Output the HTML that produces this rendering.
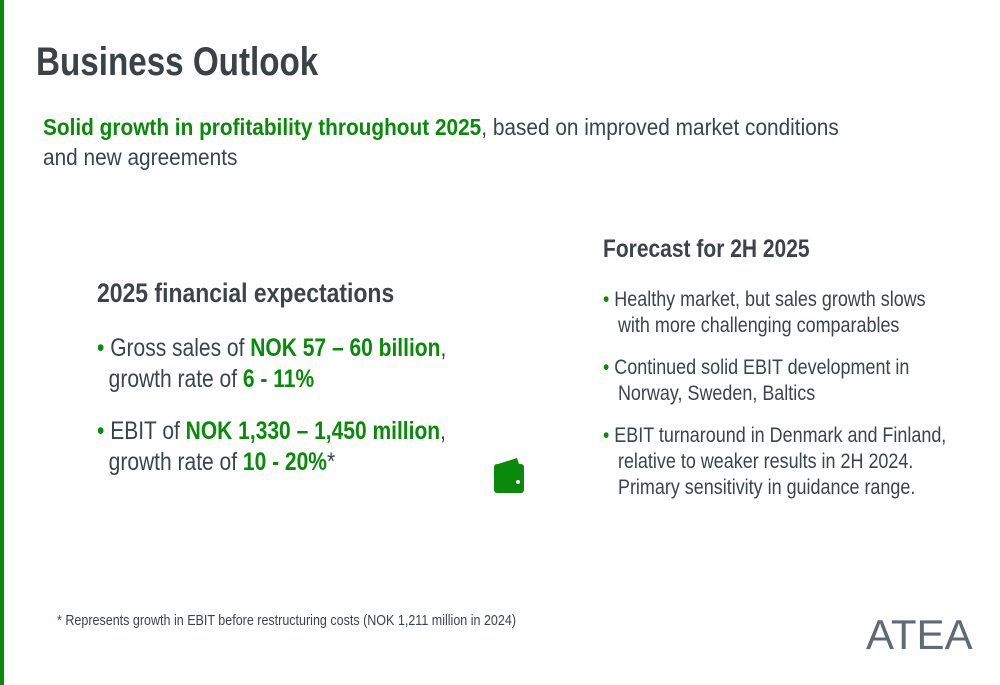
<!DOCTYPE html>
<html><head><meta charset="utf-8"><style>
body{margin:0;width:1000px;height:685px;background:#fff;position:relative;overflow:hidden;font-family:"Liberation Sans",Arial,sans-serif;color:#3d4448}
.a{position:absolute;white-space:nowrap;transform-origin:0 0;transform:scaleX(0.86)}
.g{color:#0a8a0a;font-weight:bold}
.b{color:#0a8a0a}
</style></head><body>
<div style="position:absolute;left:0;top:0;width:4px;height:685px;background:#0a8a0a"></div>
<div class="a" style="left:36px;top:40px;font-size:40px;font-weight:bold;color:#3b4246;transform:scaleX(0.83)">Business Outlook</div>
<div class="a" style="left:43px;top:112px;font-size:23px;line-height:30px;transform:scaleX(0.905)"><span class="g">Solid growth in profitability throughout 2025</span>, based on improved market conditions<br>and new agreements</div>
<div class="a" style="left:97px;top:278px;font-size:27px;font-weight:bold;transform:scaleX(0.85)">2025 financial expectations</div>
<div class="a" style="left:97px;top:333px;font-size:25px;line-height:31px;transform:scaleX(0.84)"><span class="b">•</span> Gross sales of <span class="g">NOK 57 – 60 billion</span>,<br>&nbsp;&nbsp;growth rate of <span class="g">6 - 11%</span></div>
<div class="a" style="left:97px;top:416px;font-size:25px;line-height:31px;transform:scaleX(0.84)"><span class="b">•</span> EBIT of <span class="g">NOK 1,330 – 1,450 million</span>,<br>&nbsp;&nbsp;growth rate of <span class="g">10 - 20%</span>*</div>
<svg style="position:absolute;left:493px;top:455px" width="32" height="40" viewBox="0 0 32 40"><path d="M2 10 L24 3 L26 9 Z" fill="#0a8a0a"/><rect x="1" y="9" width="30" height="29" rx="3" fill="#0a8a0a"/><circle cx="25" cy="27" r="2" fill="#fff"/></svg>
<div class="a" style="left:603px;top:235px;font-size:25px;font-weight:bold;transform:scaleX(0.84)">Forecast for 2H 2025</div>
<div class="a" style="left:603px;top:287px;font-size:21px;line-height:26px;transform:scaleX(0.855)"><span class="b">•</span> Healthy market, but sales growth slows<br>&nbsp;&nbsp;&nbsp;with more challenging comparables</div>
<div class="a" style="left:603px;top:355px;font-size:21px;line-height:26px;transform:scaleX(0.855)"><span class="b">•</span> Continued solid EBIT development in<br>&nbsp;&nbsp;&nbsp;Norway, Sweden, Baltics</div>
<div class="a" style="left:603px;top:423px;font-size:21px;line-height:26px;transform:scaleX(0.855)"><span class="b">•</span> EBIT turnaround in Denmark and Finland,<br>&nbsp;&nbsp;&nbsp;relative to weaker results in 2H 2024.<br>&nbsp;&nbsp;&nbsp;Primary sensitivity in guidance range.</div>
<div class="a" style="left:57px;top:612px;font-size:15px;transform:scaleX(0.835)"><span class="b">*</span> Represents growth in EBIT before restructuring costs (NOK 1,211 million in 2024)</div>
<div style="position:absolute;left:866px;top:614px;font-size:42px;color:#5f6b72;letter-spacing:0px;line-height:42px;font-family:'Liberation Sans',sans-serif;transform:scaleX(1.0);transform-origin:0 0">ATEA</div>
</body></html>
